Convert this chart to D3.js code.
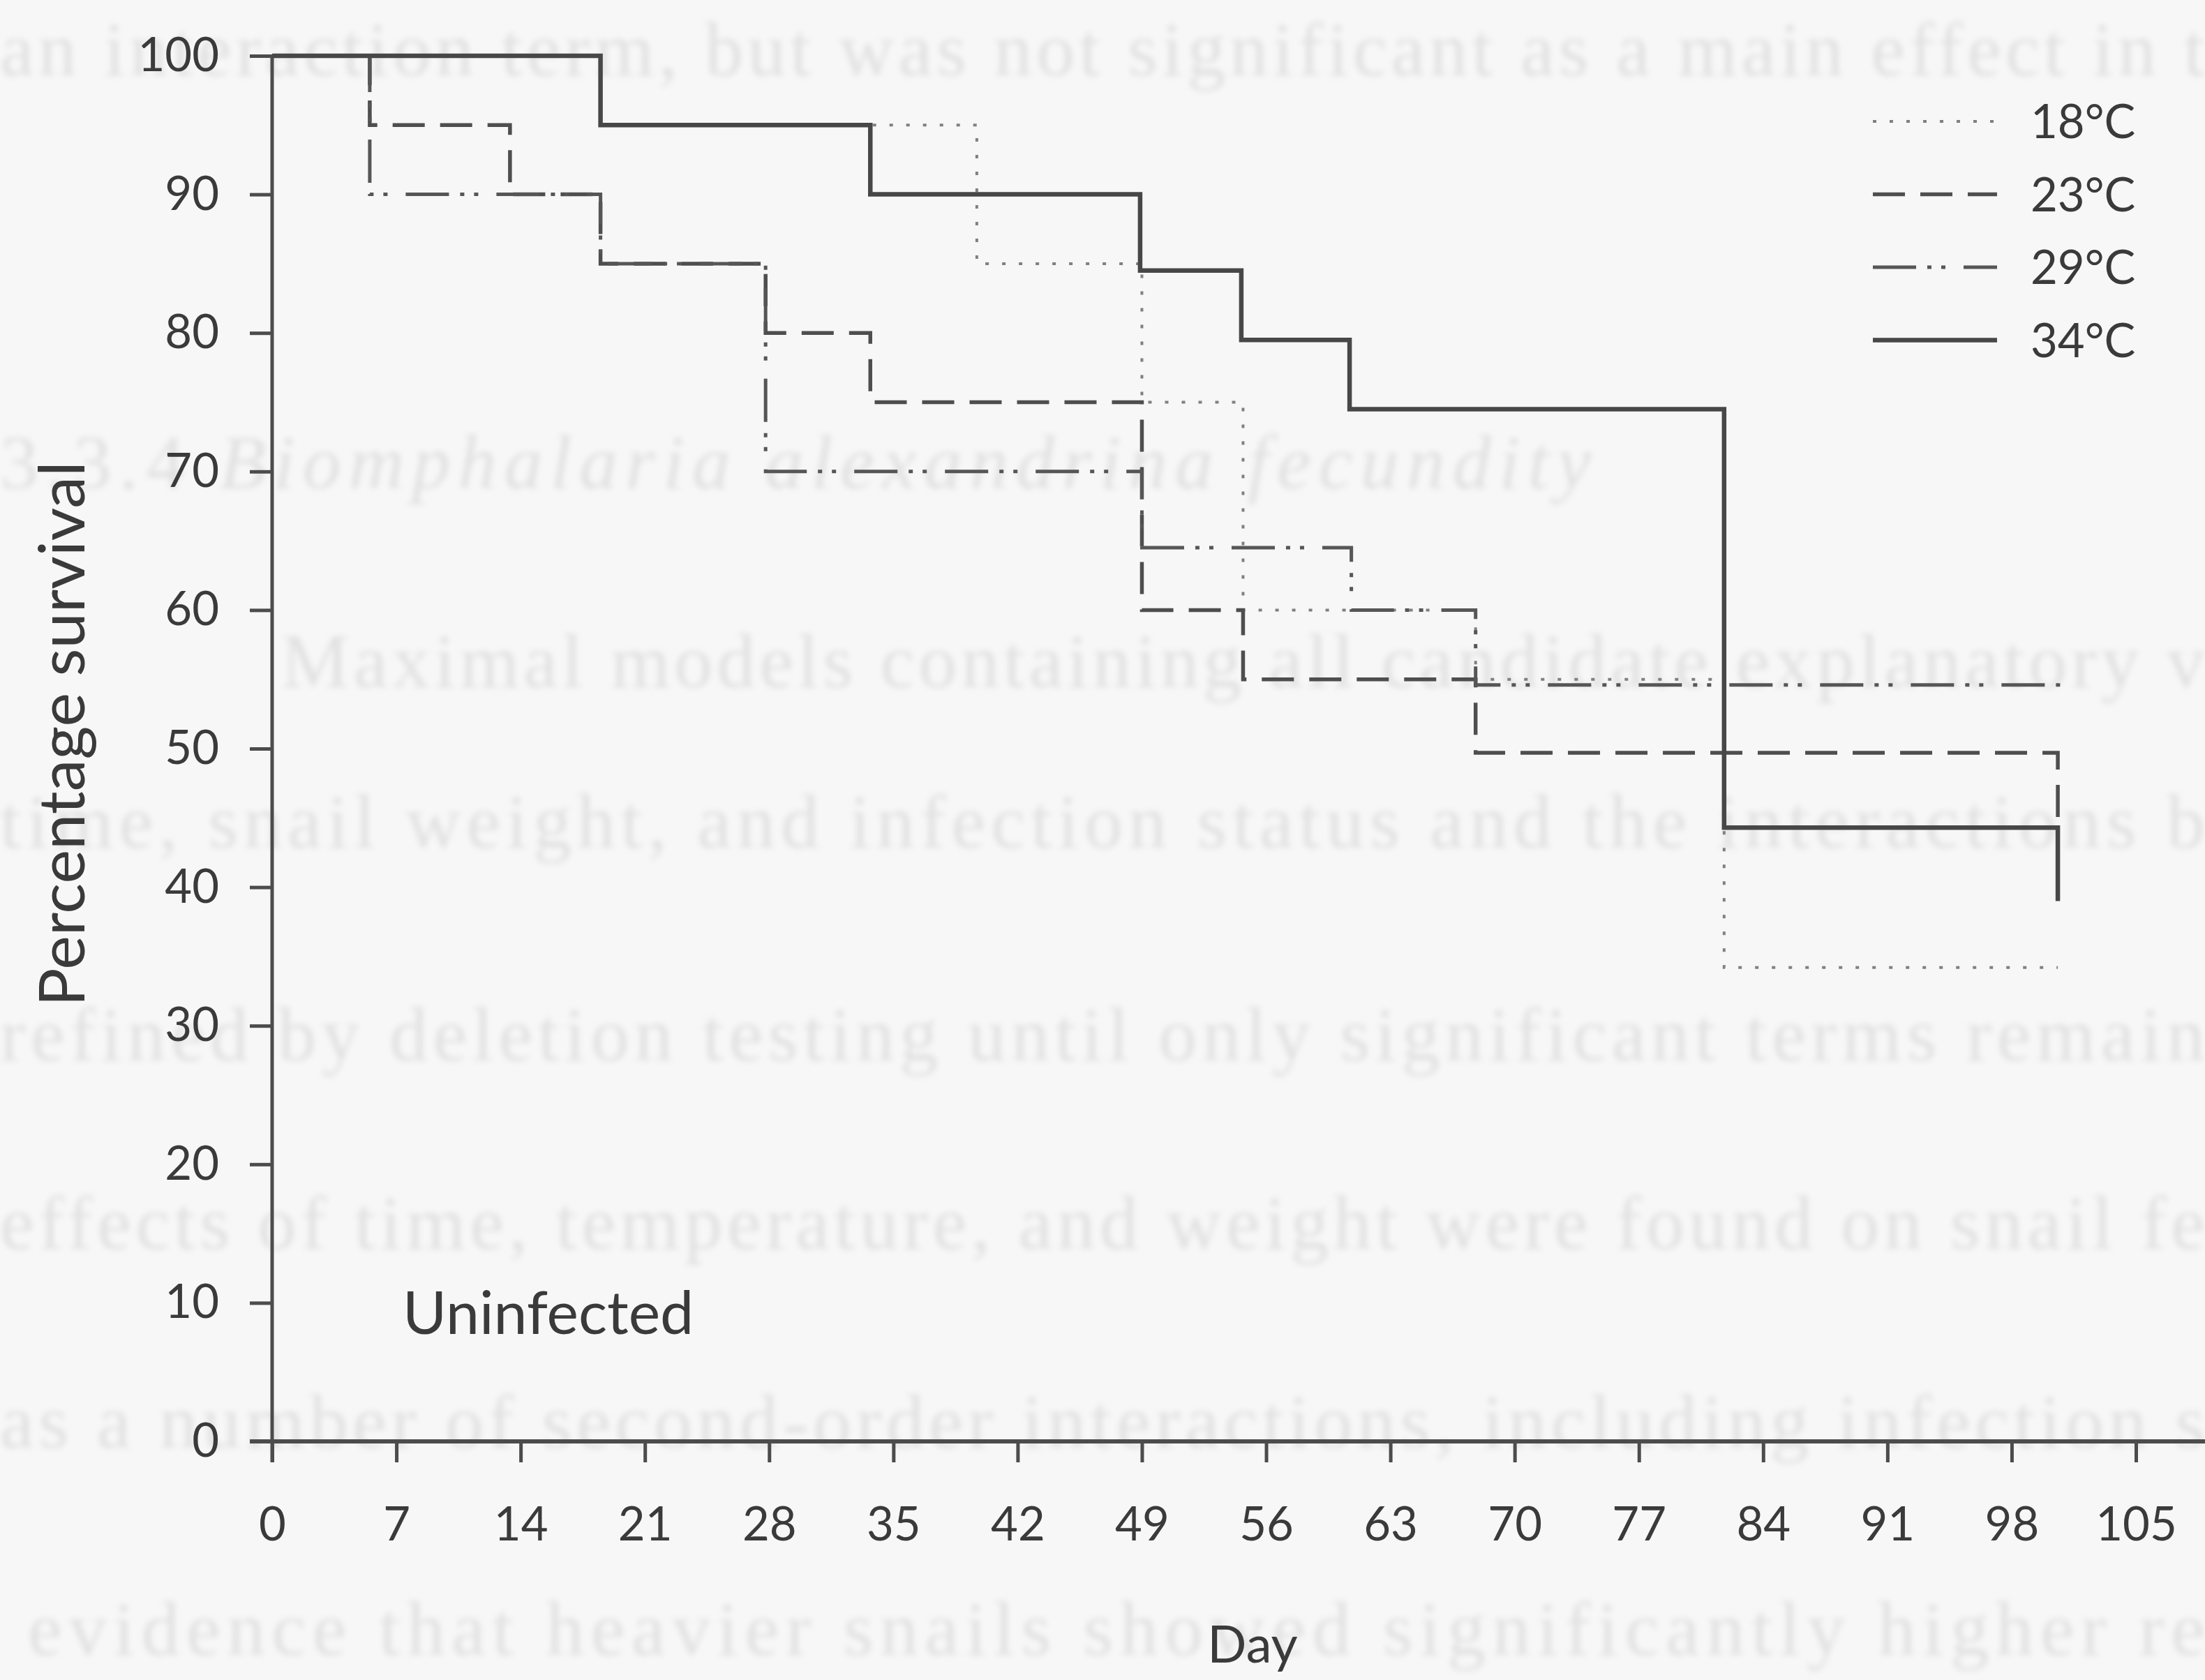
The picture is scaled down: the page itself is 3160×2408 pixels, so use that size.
<!DOCTYPE html>
<html>
<head>
<meta charset="utf-8">
<script src="https://cdn.jsdelivr.net/npm/d3@7"></script>
<style>
  html, body { margin: 0; padding: 0; background: #f7f7f7; }
  svg { display: block; }
</style>
</head>
<body>
<svg id="chart" width="3160" height="2408"></svg>
<script>
// ---- data -------------------------------------------------------------
const dayTicks = [0, 7, 14, 21, 28, 35, 42, 49, 56, 63, 70, 77, 84, 91, 98, 105];
const survivalTicks = [0, 10, 20, 30, 40, 50, 60, 70, 80, 90, 100];
const temperatures = ["18°C", "23°C", "29°C", "34°C"];

// Kaplan–Meier steps: day of each change and survival (%) from that day on
const days18 = [0, 18.5, 39.7, 49, 54.7, 67.8, 81.8, 100.6];
const surv18 = [100, 95, 85, 75, 60, 55, 34.2, 34.2];

const days23 = [0, 5.5, 13.4, 18.5, 27.8, 33.7, 49, 54.7, 67.8, 100.6];
const surv23 = [100, 95, 90, 85, 80, 75, 60, 55, 49.7, 44.3];

const days29 = [0, 5.5, 18.5, 27.8, 49, 60.8, 67.8, 100.8];
const surv29 = [100, 90, 85, 70, 64.5, 60, 54.6, 54.6];

const days34 = [0, 18.5, 33.7, 48.9, 54.6, 60.7, 81.8, 100.6];
const surv34 = [100, 95, 90, 84.5, 79.5, 74.5, 44.3, 39];

const panelLabel = "Uninfected";
const xTitle = "Day";
const yTitle = "Percentage survival";

// text printed on the reverse of the sheet, showing through the paper
const throughText = [
  "an interaction term, but was not significant as a main effect in t",
  "3.3.4 Biomphalaria alexandrina fecundity",
  "Maximal models containing all candidate explanatory v",
  "time, snail weight, and infection status and the interactions b",
  "refined by deletion testing until only significant terms remain",
  "effects of time, temperature, and weight were found on snail fe",
  "as a number of second-order interactions, including infection s",
  "evidence that heavier snails showed significantly higher re"
];

// ---- layout -----------------------------------------------------------
const W = 3160, H = 2408;
const svg = d3.select("#chart");

const x = d3.scaleLinear().domain([0, 105]).range([390, 3061]);
const y = d3.scaleLinear().domain([0, 100]).range([2066, 80]);

const series = [
  { name: "18°C", days: days18, surv: surv18 },
  { name: "23°C", days: days23, surv: surv23 },
  { name: "29°C", days: days29, surv: surv29 },
  { name: "34°C", days: days34, surv: surv34 }
];

const lineStyle = {
  "18°C": { dash: "5 19", width: 4, color: "#808080" },
  "23°C": { dash: "46 22", width: 5.5, color: "#4e4e4e" },
  "29°C": { dash: "62 16 6 14 6 26", width: 5, color: "#565656" },
  "34°C": { dash: null, width: 6.5, color: "#474747" }
};

const ink = "#3a3a3a";
const sans = "Lato, 'Open Sans', sans-serif";

const defs = svg.append("defs");
defs.append("filter").attr("id", "soft")
  .attr("x", "-5%").attr("y", "-20%").attr("width", "110%").attr("height", "140%")
  .append("feGaussianBlur").attr("stdDeviation", 4);

// ---- faint show-through text -------------------------------------------
const throughPos = [
  { x: 0, y: 108, len: 3160 },
  { x: 0, y: 700, len: 2280 },
  { x: 403, y: 985, len: 2757 },
  { x: 0, y: 1215, len: 3160 },
  { x: 0, y: 1520, len: 3160 },
  { x: 0, y: 1790, len: 3160 },
  { x: 0, y: 2075, len: 3160 },
  { x: 40, y: 2372, len: 3120 }
];
const ghost = svg.append("g").attr("filter", "url(#soft)")
  .attr("font-family", "'Liberation Serif', 'DejaVu Serif', serif")
  .attr("font-size", 110).attr("fill", "#e1e1e1");
throughText.forEach((t, i) => {
  const p = throughPos[i];
  const el = ghost.append("text").attr("x", p.x).attr("y", p.y)
    .attr("textLength", p.len).attr("lengthAdjust", "spacing");
  if (i === 1) {
    el.append("tspan").text("3.3.4 ");
    el.append("tspan").attr("font-style", "italic").text("Biomphalaria alexandrina fecundity");
  } else {
    el.text(t);
  }
});

// ---- axes --------------------------------------------------------------
const axisColor = "#4c4c4c";

const yAxis = svg.append("g")
  .attr("transform", `translate(${x(0)},0)`)
  .call(d3.axisLeft(y).tickValues(survivalTicks).tickSize(32).tickPadding(44).tickSizeOuter(0));
yAxis.select(".domain").remove();
yAxis.selectAll(".tick line").attr("stroke", axisColor).attr("stroke-width", 5);
yAxis.selectAll(".tick text").attr("font-family", sans).attr("font-size", 67).attr("fill", ink);

const xAxis = svg.append("g")
  .attr("transform", `translate(0,${y(0)})`)
  .call(d3.axisBottom(x).tickValues(dayTicks).tickSize(30).tickPadding(64).tickSizeOuter(0));
xAxis.select(".domain").remove();
xAxis.selectAll(".tick line").attr("stroke", axisColor).attr("stroke-width", 5);
xAxis.selectAll(".tick text").attr("font-family", sans).attr("font-size", 67).attr("fill", ink);

// axis lines: vertical runs a little below the baseline, horizontal to the edge
svg.append("line")
  .attr("x1", x(0)).attr("x2", x(0)).attr("y1", y(100)).attr("y2", y(0) + 30)
  .attr("stroke", axisColor).attr("stroke-width", 5);
svg.append("line")
  .attr("x1", x(0) - 32).attr("x2", W).attr("y1", y(0)).attr("y2", y(0))
  .attr("stroke", axisColor).attr("stroke-width", 6);

// ---- survival curves ---------------------------------------------------
const stepLine = d3.line()
  .x(d => x(d.day))
  .y(d => y(d.surv))
  .curve(d3.curveStepAfter);

svg.append("g").selectAll("path")
  .data(series)
  .join("path")
  .attr("d", s => stepLine(s.days.map((d, i) => ({ day: d, surv: s.surv[i] }))))
  .attr("fill", "none")
  .attr("stroke", s => lineStyle[s.name].color)
  .attr("stroke-width", s => lineStyle[s.name].width)
  .attr("stroke-dasharray", s => lineStyle[s.name].dash)
  .attr("stroke-linecap", "butt");

// ---- legend ------------------------------------------------------------
const legend = svg.append("g");
temperatures.forEach((name, i) => {
  const ly = 174 + i * 104.5;
  const st = lineStyle[name];
  legend.append("line")
    .attr("x1", 2684).attr("x2", 2862).attr("y1", ly).attr("y2", ly)
    .attr("stroke", st.color).attr("stroke-width", st.width)
    .attr("stroke-dasharray", st.dash);
  legend.append("text")
    .attr("x", 2910).attr("y", ly + 24)
    .attr("font-family", sans).attr("font-size", 67).attr("fill", ink)
    .text(name);
});

// ---- labels ------------------------------------------------------------
svg.append("text")
  .attr("x", 577).attr("y", 1912)
  .attr("font-family", sans).attr("font-size", 86).attr("fill", ink)
  .text(panelLabel);

svg.append("text")
  .attr("x", 1795).attr("y", 2383).attr("text-anchor", "middle")
  .attr("font-family", sans).attr("font-size", 74).attr("fill", ink)
  .text(xTitle);

svg.append("text")
  .attr("transform", "translate(121,1052) rotate(-90)")
  .attr("text-anchor", "middle")
  .attr("font-family", sans).attr("font-size", 92).attr("fill", ink)
  .text(yTitle);
</script>
</body>
</html>
